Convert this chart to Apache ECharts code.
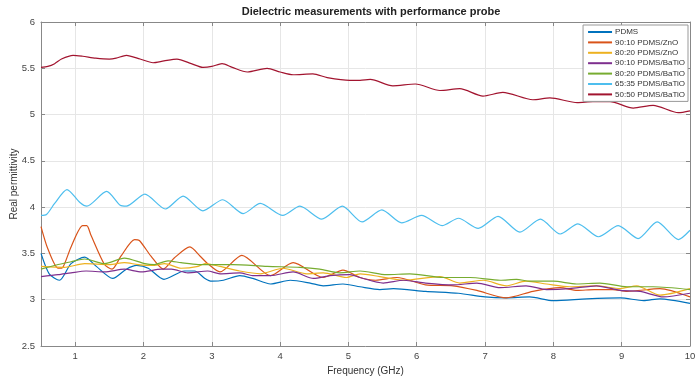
<!DOCTYPE html>
<html>
<head>
<meta charset="utf-8">
<script src="https://cdn.jsdelivr.net/npm/echarts@6/dist/echarts.min.js"></script>
<style>html,body{margin:0;padding:0;background:#fff}#c{width:695px;height:379px}</style>
</head>
<body>
<div id="c"></div>
<script>
const seriesNames = ['PDMS','90:10 PDMS/ZnO','80:20 PDMS/ZnO','90:10 PDMS/BaTiO','80:20 PDMS/BaTiO','65:35 PDMS/BaTiO','50:50 PDMS/BaTiO'];
const seriesColors = ['#0072BD','#D95319','#EDB120','#7E2F8E','#77AC30','#4DBEEE','#A2142F'];
const xTicks = [1,2,3,4,5,6,7,8,9,10];

const pdmsF = [0.5,0.62,0.77,0.94,1.14,1.31,1.55,1.75,1.9,2.07,2.3,2.6,2.75,2.9,3.0,3.17,3.41,3.6,3.86,4.15,4.44,4.63,4.92,5.17,5.46,5.66,6.13,6.61,7.0,7.31,7.65,8.0,8.49,8.98,9.32,9.56,10];
const pdmsV = [3.50,3.28,3.21,3.39,3.46,3.36,3.23,3.33,3.37,3.34,3.22,3.31,3.31,3.23,3.20,3.21,3.26,3.23,3.17,3.21,3.18,3.15,3.17,3.14,3.11,3.12,3.09,3.07,3.03,3.02,3.03,2.99,3.01,3.02,2.99,3.01,2.96];

const zno10F = [0.5,0.6,0.75,0.82,0.94,1.11,1.17,1.23,1.43,1.54,1.67,1.87,1.94,2.11,2.29,2.45,2.68,2.83,2.94,3.12,3.44,3.86,4.19,4.63,4.92,5.17,5.4,5.71,6.13,6.53,6.88,7.31,7.7,8.1,8.35,8.6,8.87,9.08,9.56,10];
const zno10V = [3.79,3.55,3.34,3.35,3.57,3.80,3.80,3.70,3.38,3.33,3.47,3.65,3.64,3.47,3.33,3.45,3.57,3.47,3.39,3.30,3.48,3.26,3.40,3.24,3.32,3.24,3.21,3.24,3.16,3.15,3.10,3.02,3.09,3.13,3.10,3.11,3.11,3.09,3.12,3.03];

const zno20F = [0.5,0.84,1.14,1.5,1.72,1.92,2.16,2.31,2.55,2.8,2.9,3.12,3.41,3.71,4.04,4.39,4.63,4.97,5.17,5.46,5.81,6.34,6.63,6.98,7.31,7.6,7.9,8.24,8.63,8.98,9.22,9.56,10];
const zno20V = [3.36,3.35,3.39,3.38,3.40,3.38,3.37,3.39,3.34,3.36,3.39,3.36,3.31,3.28,3.34,3.28,3.29,3.24,3.28,3.25,3.21,3.25,3.18,3.21,3.15,3.20,3.17,3.14,3.15,3.12,3.15,3.05,3.12];

const bt10F = [0.5,0.75,0.94,1.16,1.43,1.72,1.97,2.26,2.41,2.65,2.94,3.12,3.41,3.6,3.86,4.19,4.49,4.73,5.02,5.17,5.51,5.81,6.13,6.53,6.88,7.22,7.6,7.9,8.24,8.63,8.98,9.27,9.61,10];
const bt10V = [3.25,3.27,3.29,3.31,3.30,3.33,3.30,3.33,3.33,3.29,3.31,3.28,3.29,3.26,3.26,3.30,3.23,3.26,3.27,3.24,3.18,3.21,3.18,3.16,3.18,3.13,3.15,3.11,3.12,3.15,3.10,3.09,3.03,3.07];

const bt20F = [0.5,0.75,0.94,1.14,1.43,1.72,2.02,2.16,2.36,2.55,2.8,3.31,3.81,4.29,4.58,4.87,5.17,5.56,5.9,6.39,6.78,7.22,7.46,7.65,8.0,8.34,8.68,9.08,9.46,10];
const bt20V = [3.33,3.38,3.41,3.44,3.39,3.45,3.39,3.38,3.42,3.40,3.38,3.38,3.36,3.35,3.33,3.29,3.31,3.27,3.28,3.24,3.24,3.21,3.22,3.20,3.20,3.17,3.18,3.14,3.14,3.11];

const bt35F = [0.5,0.58,0.7,0.88,1.07,1.17,1.46,1.66,1.75,2.02,2.32,2.58,2.87,3.16,3.46,3.71,4.04,4.29,4.61,4.91,5.2,5.49,5.78,6.07,6.37,6.61,6.9,7.19,7.51,7.81,8.1,8.36,8.66,8.95,9.24,9.52,9.83,10];
const bt35V = [3.91,3.92,4.04,4.19,4.05,4.01,4.17,4.02,4.01,4.14,3.98,4.12,3.96,4.08,3.93,4.04,3.91,4.01,3.87,4.01,3.84,3.97,3.83,3.91,3.80,3.88,3.77,3.90,3.73,3.87,3.71,3.82,3.68,3.80,3.66,3.84,3.65,3.75];

const bt50F = [0.5,0.6,0.7,0.8,0.97,1.11,1.3,1.5,1.6,1.75,1.95,2.14,2.3,2.49,2.7,2.87,3.0,3.15,3.3,3.52,3.81,4.0,4.19,4.48,4.69,5.02,5.17,5.32,5.65,5.98,6.34,6.63,6.97,7.26,7.7,7.95,8.35,8.58,8.83,9.17,9.46,9.83,10];
const bt50V = [5.51,5.52,5.55,5.60,5.64,5.63,5.61,5.60,5.61,5.64,5.60,5.56,5.58,5.60,5.55,5.51,5.52,5.55,5.51,5.46,5.50,5.46,5.43,5.44,5.40,5.37,5.37,5.38,5.31,5.33,5.26,5.28,5.20,5.24,5.16,5.18,5.13,5.14,5.14,5.07,5.10,5.02,5.04];

const allF = [pdmsF, zno10F, zno20F, bt10F, bt20F, bt35F, bt50F];
const allV = [pdmsV, zno10V, zno20V, bt10V, bt20V, bt35V, bt50V];

const FONT = 'Liberation Sans, Arial, sans-serif';
const series = seriesNames.map((name, i) => ({
  name: name,
  type: 'line',
  symbol: 'none',
  smooth: 0.25,
  xAxisIndex: 0, yAxisIndex: 0,
  lineStyle: { color: seriesColors[i], width: 1.2 },
  itemStyle: { color: seriesColors[i] },
  data: allF[i].map((f, j) => [f, allV[i][j]])
}));

const chart = echarts.init(document.getElementById('c'), null, { renderer: 'canvas' });
chart.setOption({
  animation: false,
  backgroundColor: '#fff',
  title: {
    text: 'Dielectric measurements with performance probe',
    left: 366, top: 1, textAlign: 'center',
    textStyle: { fontFamily: FONT, fontSize: 11, fontWeight: 'bold', color: '#222' }
  },
  grid: { left: 41, right: 5, top: 22, bottom: 33, containLabel: false, outerBoundsMode: 'none' },
  legend: {
    orient: 'vertical', right: 7, top: 25,
    backgroundColor: '#fff', borderColor: '#999', borderWidth: 1,
    padding: [3, 3, 3, 4], itemWidth: 24, itemHeight: 8, itemGap: 2.4,
    itemStyle: { color: 'transparent', borderWidth: 0, opacity: 0 },
    textStyle: { fontFamily: FONT, fontSize: 8, color: '#333', padding: [0,0,0,-2] },
    data: seriesNames
  },
  xAxis: [{
    type: 'value', min: 0.5, max: 10,
    name: 'Frequency (GHz)', nameLocation: 'middle', nameGap: 19,
    nameTextStyle: { fontFamily: FONT, fontSize: 10, color: '#333' },
    axisLine: { show: true, lineStyle: { color: '#888', width: 1 } },
    axisTick: { show: true, inside: true, length: 4, customValues: xTicks, lineStyle: { color: '#888' } },
    axisLabel: { customValues: xTicks, fontFamily: FONT, fontSize: 9.5, color: '#444', margin: 5 },
    splitLine: { show: true, lineStyle: { color: '#e6e6e6', width: 1 } }
  }, {
    type: 'value', min: 0.5, max: 10, position: 'top',
    axisLine: { show: true, lineStyle: { color: '#888', width: 1 } },
    axisTick: { show: true, inside: true, length: 4, customValues: xTicks, lineStyle: { color: '#888' } },
    axisLabel: { show: false },
    splitLine: { show: false }
  }],
  yAxis: [{
    type: 'value', min: 2.5, max: 6, interval: 0.5,
    name: 'Real permittivity', nameLocation: 'middle', nameGap: 22, nameMoveOverlap: false,
    nameTextStyle: { fontFamily: FONT, fontSize: 10, color: '#333' },
    axisLine: { show: true, lineStyle: { color: '#888', width: 1 } },
    axisTick: { show: true, inside: true, length: 4, lineStyle: { color: '#888' } },
    axisLabel: { fontFamily: FONT, fontSize: 9.5, color: '#444', margin: 6 },
    splitLine: { show: true, lineStyle: { color: '#e6e6e6', width: 1 } }
  }, {
    type: 'value', min: 2.5, max: 6, interval: 0.5, position: 'right',
    axisLine: { show: true, lineStyle: { color: '#888', width: 1 } },
    axisTick: { show: true, inside: true, length: 4, lineStyle: { color: '#888' } },
    axisLabel: { show: false },
    splitLine: { show: false }
  }],
  series: series
});
</script>
</body>
</html>
